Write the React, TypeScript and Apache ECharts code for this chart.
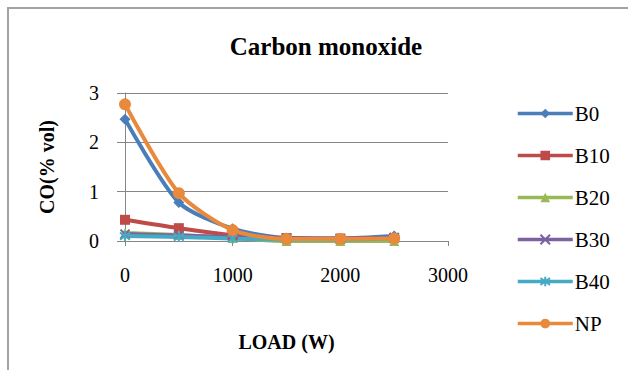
import React, { useEffect, useRef } from "react";
import * as echarts from "echarts";

// Engine load (W)
const loads = [0, 500, 1000, 1500, 2000, 2500];

// CO emission (% vol) per fuel blend
const b0 = [2.47, 0.78, 0.25, 0.06, 0.05, 0.1];
const b10 = [0.43, 0.26, 0.12, 0.06, 0.05, 0.06];
const b20 = [0.16, 0.12, 0.06, 0.0, 0.0, 0.0];
const b30 = [0.14, 0.11, 0.08, 0.05, 0.04, 0.07];
const b40 = [0.1, 0.08, 0.05, 0.03, 0.03, 0.05];
const np = [2.77, 0.97, 0.22, 0.04, 0.04, 0.05];

const FONT = "Liberation Serif";

const CROSS = "path://M0,0 L10,10 M10,0 L0,10";
const STAR = "path://M5,0 L5,10 M0,1.5 L10,8.5 M0,8.5 L10,1.5";

type SeriesDef = {
  name: string;
  data: number[];
  color: string;
  symbol: string;
  size: number;
  stroke?: boolean;
};

const seriesDefs: SeriesDef[] = [
  { name: "B0", data: b0, color: "#4a7ebb", symbol: "diamond", size: 11 },
  { name: "B10", data: b10, color: "#be4b48", symbol: "rect", size: 10 },
  { name: "B20", data: b20, color: "#98b954", symbol: "triangle", size: 10 },
  { name: "B30", data: b30, color: "#7d60a0", symbol: CROSS, size: 9, stroke: true },
  { name: "B40", data: b40, color: "#46aac5", symbol: STAR, size: 10, stroke: true },
  { name: "NP", data: np, color: "#e8893c", symbol: "circle", size: 12 },
];

export default function App() {
  const ref = useRef<HTMLDivElement>(null);

  useEffect(() => {
    if (!ref.current) return;
    const chart = echarts.init(ref.current, undefined, { renderer: "svg" });

    const series = seriesDefs.map((s) => ({
      name: s.name,
      type: "line",
      smooth: 0.25,
      data: s.data.map((v, i) => [loads[i], v]),
      symbol: s.symbol,
      symbolSize: s.size,
      showAllSymbol: true,
      lineStyle: { color: s.color, width: 4 },
      itemStyle: s.stroke
        ? { color: s.color, borderColor: s.color, borderWidth: 2 }
        : { color: s.color, borderWidth: 0 },
      emphasis: { disabled: true },
    }));

    chart.setOption({
      animation: false,
      backgroundColor: "#ffffff",
      textStyle: { fontFamily: FONT },
      title: {
        text: "Carbon monoxide",
        left: 321,
        top: 29,
        textAlign: "center",
        textStyle: { fontFamily: FONT, fontSize: 25, fontWeight: "bold", color: "#000" },
      },
      grid: { left: 125, right: 180, top: 93, bottom: 129 },
      legend: {
        orient: "vertical",
        left: 511,
        top: 98,
        itemWidth: 55,
        itemHeight: 12,
        itemGap: 21,
        lineStyle: { width: 3.5 },
        textStyle: { fontFamily: FONT, fontSize: 21, color: "#000", padding: [0, 0, 0, -3] },
        data: seriesDefs.map((s) => s.name),
      },
      xAxis: {
        type: "value",
        min: 0,
        max: 3000,
        interval: 1000,
        name: "LOAD (W)",
        nameLocation: "middle",
        nameGap: 91,
        nameTextStyle: { fontFamily: FONT, fontSize: 20, fontWeight: "bold", color: "#000" },
        axisLine: { show: true, lineStyle: { color: "#868686", width: 1 } },
        axisTick: { show: true, inside: false, length: 5, lineStyle: { color: "#868686" } },
        axisLabel: {
          fontFamily: FONT,
          fontSize: 20,
          color: "#000",
          margin: 24,
          formatter: (v: number) => String(v),
        },
        splitLine: { show: false },
      },
      yAxis: {
        type: "value",
        min: 0,
        max: 3,
        interval: 1,
        name: "CO(% vol)",
        nameLocation: "middle",
        nameRotate: 90,
        nameGap: 68,
        nameTextStyle: { fontFamily: FONT, fontSize: 20, fontWeight: "bold", color: "#000" },
        axisLine: { show: true, lineStyle: { color: "#868686", width: 1 } },
        axisTick: { show: true, inside: false, length: 8, lineStyle: { color: "#868686" } },
        axisLabel: {
          fontFamily: FONT,
          fontSize: 20,
          color: "#000",
          margin: 26,
          formatter: (v: number) => String(v),
        },
        splitLine: { show: true, lineStyle: { color: "#868686", width: 1 } },
      },
      graphic: [
        {
          type: "rect",
          shape: { x: 8, y: 8, width: 640, height: 380 },
          style: { fill: "none", stroke: "#a3a3a3", lineWidth: 2 },
          silent: true,
          z: -1,
        },
      ],
      series,
    });

    return () => chart.dispose();
  }, []);

  return (
    <div
      ref={ref}
      style={{ position: "fixed", left: 0, top: 0, width: 628, height: 370 }}
    />
  );
}
